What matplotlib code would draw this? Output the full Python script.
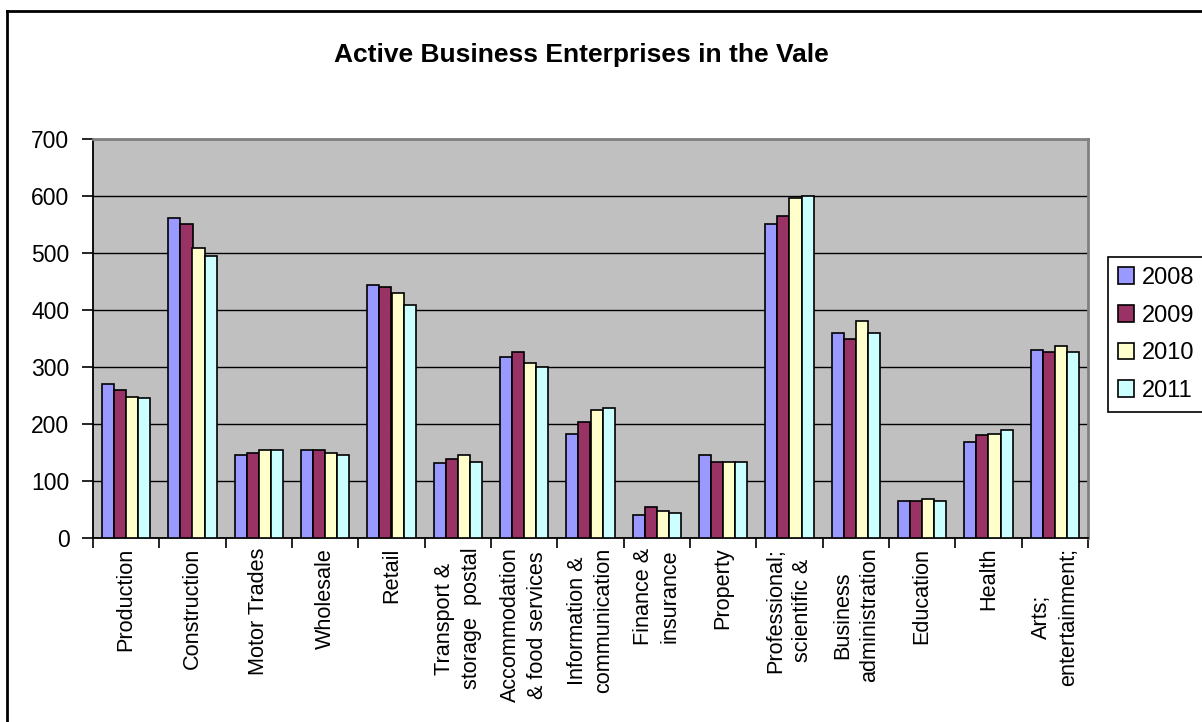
import numpy as np
import matplotlib
matplotlib.use('Agg')
import matplotlib.pyplot as plt
from matplotlib.lines import Line2D

plt.rcParams['font.family'] = ['Liberation Sans', 'DejaVu Sans']

# Data
categories = ['Production', 'Construction', 'Motor Trades', 'Wholesale', 'Retail',
              'Transport &\nstorage  postal', 'Accommodation\n& food services',
              'Information &\ncommunication', 'Finance &\ninsurance', 'Property',
              'Professional;\nscientific &', 'Business\nadministration', 'Education',
              'Health', 'Arts;\nentertainment;']
years = ['2008', '2009', '2010', '2011']
v2008 = [270, 561, 145, 155, 443, 131, 318, 183, 40, 145, 551, 360, 65, 169, 329]
v2009 = [259, 551, 149, 155, 440, 138, 326, 203, 54, 134, 565, 350, 65, 180, 326]
v2010 = [248, 509, 155, 149, 429, 145, 307, 224, 47, 134, 596, 381, 68, 183, 336]
v2011 = [245, 495, 155, 145, 409, 134, 300, 228, 43, 134, 600, 360, 65, 190, 326]
series = [v2008, v2009, v2010, v2011]
colors = ['#9999FF', '#993366', '#FFFFCC', '#CCFFFF']

fig = plt.figure(figsize=(12.02, 7.22), dpi=100)
ax = fig.add_axes([93 / 1202, 1 - 538 / 722, (1088 - 93) / 1202, (538 - 139) / 722])
ax.set_facecolor('#C0C0C0')

x = np.arange(len(categories))
w = 1 / 5.5
for i, (vals, col, yr) in enumerate(zip(series, colors, years)):
    ax.bar(x + (i - 1.5) * w, vals, width=w, color=col, edgecolor='black',
           linewidth=1.2, label=yr, zorder=3)

ax.set_xlim(-0.5, len(categories) - 0.5)
ax.set_ylim(0, 700)
ax.set_yticks(range(0, 701, 100))
ax.yaxis.grid(True, color='black', linewidth=1.0, zorder=1)
ax.set_axisbelow(True)

ax.set_xticks(np.arange(-0.5, len(categories), 1.0))
ax.set_xticklabels([])
ax.set_xticks(x, minor=True)
ax.set_xticklabels(categories, minor=True, rotation=90, va='top', ha='center',
                   multialignment='center', fontsize=15.6, linespacing=1.35)
ax.tick_params(axis='x', which='minor', length=0, pad=7)
ax.tick_params(axis='x', which='major', length=7, width=1.2, direction='out')
ax.tick_params(axis='y', length=8, width=1.2, direction='out', labelsize=16.5, pad=9)

for side in ['left', 'bottom']:
    ax.spines[side].set_color('black')
    ax.spines[side].set_linewidth(1.3)
for side in ['top', 'right']:
    ax.spines[side].set_color('#808080')
    ax.spines[side].set_linewidth(2)

fig.text(581 / 1202, 1 - 55 / 722, 'Active Business Enterprises in the Vale',
         ha='center', va='center', fontsize=19, fontweight='bold')

leg = fig.legend(loc='upper left', bbox_to_anchor=(1108 / 1202, 1 - 257 / 722),
                 fancybox=False, framealpha=1, edgecolor='black', fontsize=17,
                 handlelength=0.7, handleheight=0.7, handletextpad=0.3,
                 labelspacing=0.66, borderpad=0.42, borderaxespad=0)
leg.get_frame().set_linewidth(1.2)

# chart outer border
fig.add_artist(Line2D([7 / 1202, 7 / 1202], [0, 1 - 11 / 722], transform=fig.transFigure,
                      color='black', linewidth=2))
fig.add_artist(Line2D([7 / 1202, 1], [1 - 11 / 722, 1 - 11 / 722], transform=fig.transFigure,
                      color='black', linewidth=2))

fig.savefig('out.png', dpi=100)
